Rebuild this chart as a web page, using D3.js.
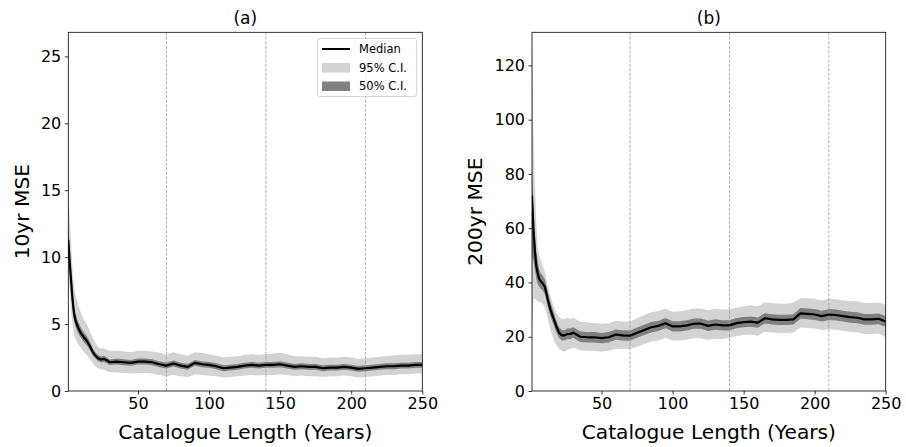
<!DOCTYPE html>
<html>
<head>
<meta charset="utf-8">
<script src="https://cdn.jsdelivr.net/npm/d3@7"></script>
<style>
  body { margin: 0; background: #fff; }
  text { font-family: "DejaVu Sans", sans-serif; fill: #000; }
</style>
</head>
<body>
<script>
const WIDTH = 906;
const HEIGHT = 447;
const TOP = 32.3;
const BOTTOM = 391;

const years = [1,2,3,4,5,6,7,8,10,12,14,16,18,20,22,24,26,28,30,
  35,40,45,50,55,60,65,70,75,80,85,90,95,100,105,110,115,120,125,130,135,140,
  145,150,155,160,165,170,175,180,185,190,195,200,205,210,215,220,225,230,235,240,245,250];

// (a) 10yr MSE
const medianA = [11.3,9.6,8.2,6.8,5.8,5.3,5.0,4.7,4.3,4.0,3.75,3.4,2.95,2.65,2.45,2.35,2.4,2.3,2.15,
  2.2,2.15,2.1,2.2,2.2,2.15,2.0,1.9,2.05,1.9,1.8,2.1,2.0,1.95,1.85,1.7,1.75,1.8,1.9,1.95,1.9,1.95,
  1.95,2.0,1.9,1.8,1.85,1.8,1.8,1.7,1.75,1.75,1.8,1.75,1.65,1.7,1.75,1.8,1.85,1.85,1.9,1.9,1.95,1.95];
const lo95A = [9.0,7.5,6.0,5.0,4.2,3.9,3.7,3.5,3.2,2.9,2.7,2.4,2.1,1.85,1.7,1.6,1.6,1.5,1.4,
  1.4,1.35,1.3,1.35,1.35,1.3,1.2,1.1,1.2,1.1,1.05,1.25,1.2,1.15,1.1,1.0,1.05,1.1,1.15,1.2,1.15,1.2,
  1.2,1.25,1.2,1.1,1.15,1.1,1.1,1.05,1.1,1.1,1.15,1.1,1.0,1.05,1.1,1.15,1.2,1.2,1.25,1.25,1.3,1.3];
const hi95A = [15.0,13.0,11.0,9.0,7.8,7.2,6.8,6.4,5.8,5.3,5.0,4.5,4.0,3.6,3.3,3.15,3.2,3.1,3.0,
  3.0,2.95,2.9,3.0,3.0,2.95,2.85,2.7,2.9,2.75,2.65,2.9,2.85,2.75,2.65,2.5,2.55,2.6,2.7,2.75,2.7,2.75,
  2.8,2.85,2.75,2.6,2.6,2.55,2.55,2.45,2.5,2.5,2.55,2.5,2.4,2.45,2.5,2.55,2.6,2.65,2.7,2.7,2.75,2.75];
const lo50A = [10.3,8.8,7.5,6.2,5.25,4.85,4.55,4.3,3.95,3.65,3.4,3.1,2.7,2.42,2.22,2.13,2.17,2.08,1.94,
  1.98,1.93,1.88,1.98,1.98,1.93,1.78,1.68,1.83,1.68,1.58,1.88,1.78,1.73,1.63,1.48,1.53,1.58,1.68,1.73,1.68,1.73,
  1.73,1.78,1.68,1.58,1.63,1.58,1.58,1.48,1.53,1.53,1.58,1.53,1.43,1.48,1.53,1.58,1.63,1.63,1.68,1.68,1.73,1.73];
const hi50A = [12.4,10.5,9.0,7.5,6.4,5.8,5.45,5.15,4.7,4.38,4.1,3.72,3.22,2.9,2.68,2.57,2.63,2.52,2.36,
  2.42,2.37,2.32,2.42,2.42,2.37,2.22,2.12,2.27,2.12,2.02,2.32,2.22,2.17,2.07,1.92,1.97,2.02,2.12,2.17,2.12,2.17,
  2.17,2.22,2.12,2.02,2.07,2.02,2.02,1.92,1.97,1.97,2.02,1.97,1.87,1.92,1.97,2.02,2.07,2.07,2.12,2.12,2.17,2.17];

// (b) 200yr MSE
const medianB = [72,60,52,46,43.5,41.5,40.5,40,38.5,34,30,27,24,21.5,20.5,20.5,21,21,21.5,
  20,19.8,19.8,19.5,19.8,20.8,20.5,20.4,21.5,22.5,23.5,24,25,23.8,23.8,24.2,24.8,24.8,24,24.5,24.2,24.2,
  25,25.4,25.6,25.2,26.8,26.4,26.2,26.2,26.4,28.6,28.4,28.2,27.6,28.2,28,27.6,27.2,27,26.4,26.4,26.6,25.6];
const lo95B = [22,34,34,33.5,33,33,32.5,32.5,31,27,22.5,19.5,17,15.5,14.8,14.5,15.2,15.5,16,
  15,14.8,14.8,14.5,14.8,15.6,15.4,15.5,16.3,17.2,18.2,18.6,19.6,18.6,18.6,19,19.4,19.4,18.8,19.3,19.2,19.6,
  20.2,20.6,20.8,20.4,21.8,21.6,21.4,21.4,21.6,23.4,23.2,23,22.4,22.8,22.6,22.2,21.8,21.6,21,21,21.2,19.8];
const hi95B = [135,95,77,62,53,50,48.5,47,44,39,35,31.5,29,27.5,26.5,26.5,27,26.5,27,
  25.5,25.3,25,24.8,25,25.8,25.6,25.6,26.8,28,29,29.5,30.4,29.2,29.4,29.8,30.4,30.4,29.8,30.2,30,30,
  30.8,31.2,31.6,31.2,32.6,32.4,32.2,32.2,32.6,34.2,34.2,34,33.4,34,33.8,33.4,33.2,33,32.4,32.4,32.6,31.8];
const lo50B = [50,48,45,41.5,39.5,38.5,37.8,37.3,35.8,31.3,27.5,24.7,21.8,19.5,18.6,18.6,19.1,19.1,19.6,
  18.1,17.9,17.9,17.6,17.9,18.9,18.6,18.5,19.6,20.6,21.6,22.1,23.1,21.9,21.9,22.3,22.9,22.9,22.1,22.6,22.3,22.3,
  23.1,23.5,23.7,23.3,24.9,24.5,24.3,24.3,24.5,26.6,26.4,26.2,25.6,26.2,26,25.6,25.2,25,24.4,24.4,24.6,23.6];
const hi50B = [80,67,58,51,48,45,43.5,42.8,41.3,36.8,32.6,29.4,26.2,23.6,22.5,22.5,23,23,23.5,
  21.9,21.7,21.7,21.4,21.7,22.7,22.4,22.3,23.4,24.4,25.4,25.9,26.9,25.7,25.7,26.1,26.7,26.7,25.9,26.4,26.1,26.1,
  26.9,27.3,27.5,27.1,28.7,28.3,28.1,28.1,28.3,30.6,30.4,30.2,29.6,30.2,30,29.6,29.2,29,28.4,28.4,28.6,27.6];

const xTicks = [50,100,150,200,250];
const yTicksA = [0,5,10,15,20,25];
const yTicksB = [0,20,40,60,80,100,120];
const splitYears = [70,140,210];
const legendItems = ["Median","95% C.I.","50% C.I."];

var translate = function(x,y){
  return "translate("+x+","+y+")";
};

var svg = d3.select('body')
  .append('svg')
  .attr('width', WIDTH)
  .attr('height', HEIGHT);

var drawPanel = function(p){
  var rows = years.map(function(yr,i){
    return {x: yr, m: p.median[i], lo95: p.lo95[i], hi95: p.hi95[i], lo50: p.lo50[i], hi50: p.hi50[i]};
  });

  var xScale = d3.scaleLinear().domain([1,250]).range([p.left, p.right]);
  var yScale = d3.scaleLinear().domain([0,p.ymax]).range([BOTTOM, TOP]);

  var g = svg.append('g');

  g.append('clipPath').attr('id', 'clip-'+p.id)
    .append('rect')
    .attr('x', p.left).attr('y', TOP)
    .attr('width', p.right - p.left).attr('height', BOTTOM - TOP);

  var plot = g.append('g').attr('clip-path', 'url(#clip-'+p.id+')');

  var band = function(lo,hi){
    return d3.area()
      .x(function(d){return xScale(d.x)})
      .y0(function(d){return yScale(d[lo])})
      .y1(function(d){return yScale(d[hi])});
  };

  plot.append('path').attr('d', band('lo95','hi95')(rows)).attr('fill', '#d3d3d3');
  plot.append('path').attr('d', band('lo50','hi50')(rows)).attr('fill', '#808080');

  plot.selectAll('line.split')
    .data(splitYears)
    .enter()
    .append('line')
    .attr('x1', function(d){return xScale(d)})
    .attr('x2', function(d){return xScale(d)})
    .attr('y1', TOP).attr('y2', BOTTOM)
    .attr('stroke', '#999')
    .attr('stroke-width', 0.8)
    .attr('stroke-dasharray', '3,1.5');

  plot.append('path')
    .attr('d', d3.line().x(function(d){return xScale(d.x)}).y(function(d){return yScale(d.m)})(rows))
    .attr('fill', 'none')
    .attr('stroke', '#000')
    .attr('stroke-width', 2.2)
    .attr('stroke-linejoin', 'round');

  var xAxis = d3.axisBottom(xScale).tickValues(xTicks).tickSize(3.5).tickPadding(3.5);
  var yAxis = d3.axisLeft(yScale).tickValues(p.yTicks).tickSize(3.5).tickPadding(3.5);

  var gx = g.append('g').attr('transform', translate(0, BOTTOM)).call(xAxis);
  var gy = g.append('g').attr('transform', translate(p.left, 0)).call(yAxis);
  [gx, gy].forEach(function(a){
    a.select('.domain').remove();
    a.selectAll('line').attr('stroke', '#000').attr('stroke-width', 0.8);
    a.selectAll('text').attr('font-size', 16).attr('font-family', '"DejaVu Sans", sans-serif').attr('fill', '#000');
  });

  g.append('rect')
    .attr('x', p.left).attr('y', TOP)
    .attr('width', p.right - p.left).attr('height', BOTTOM - TOP)
    .attr('fill', 'none').attr('stroke', '#000').attr('stroke-width', 0.8);

  var cx = (p.left + p.right) / 2;
  g.append('text').attr('x', cx).attr('y', 24).attr('text-anchor', 'middle')
    .attr('font-size', 17).text(p.title);
  g.append('text').attr('x', cx).attr('y', 439).attr('text-anchor', 'middle')
    .attr('font-size', 20.2).text('Catalogue Length (Years)');
  g.append('text')
    .attr('transform', translate(p.labelX, (TOP + BOTTOM) / 2) + ' rotate(-90)')
    .attr('text-anchor', 'middle').attr('dy', '0.35em')
    .attr('font-size', 20.2).text(p.ylabel);

  return g;
};

var panelA = drawPanel({id: 'a', left: 68.3, right: 422.3, ymax: 26.8, yTicks: yTicksA,
  median: medianA, lo95: lo95A, hi95: hi95A, lo50: lo50A, hi50: hi50A,
  title: '(a)', ylabel: '10yr MSE', labelX: 22});

drawPanel({id: 'b', left: 532, right: 885.7, ymax: 132.2, yTicks: yTicksB,
  median: medianB, lo95: lo95B, hi95: hi95B, lo50: lo50B, hi50: hi50B,
  title: '(b)', ylabel: '200yr MSE', labelX: 475});

// legend in panel (a)
var legend = panelA.append('g').attr('transform', translate(317.5, 38.5));
legend.append('rect')
  .attr('width', 99).attr('height', 58).attr('rx', 2.5)
  .attr('fill', '#fff').attr('fill-opacity', 0.8)
  .attr('stroke', '#ccc').attr('stroke-width', 0.8);

legend.selectAll('g.item')
  .data(legendItems)
  .enter()
  .append('g')
  .attr('transform', function(d,i){return translate(4.5, 10.5 + i * 18.5)})
  .each(function(d,i){
    var item = d3.select(this);
    if (i === 0) {
      item.append('line').attr('x1', 0).attr('x2', 28).attr('y1', 0).attr('y2', 0)
        .attr('stroke', '#000').attr('stroke-width', 2);
    } else {
      item.append('rect').attr('x', 0).attr('y', -4.5).attr('width', 28).attr('height', 9.5)
        .attr('fill', i === 1 ? '#d3d3d3' : '#808080');
    }
    item.append('text').attr('x', 37).attr('dy', '0.35em').attr('font-size', 11.5).text(d);
  });
</script>
</body>
</html>
